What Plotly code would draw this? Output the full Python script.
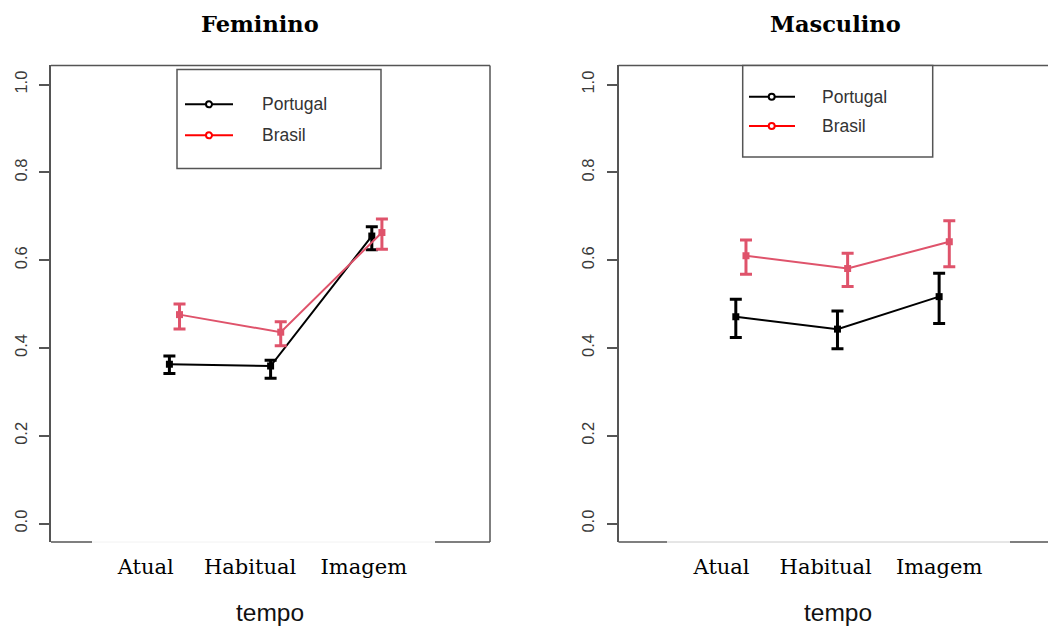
import plotly.graph_objects as go

W, H = 1048, 627

# ---------------- data ----------------
categories = ["Atual", "Habitual", "Imagem"]
panel_titles = ["Feminino", "Masculino"]
series_names = ["Portugal", "Brasil"]

# Feminino
fem_portugal = [0.363, 0.359, 0.655]
fem_portugal_hi = [0.382, 0.372, 0.676]
fem_portugal_lo = [0.342, 0.331, 0.624]
fem_brasil = [0.476, 0.436, 0.663]
fem_brasil_hi = [0.500, 0.460, 0.694]
fem_brasil_lo = [0.443, 0.405, 0.625]

# Masculino
mas_portugal = [0.471, 0.443, 0.517]
mas_portugal_hi = [0.511, 0.484, 0.570]
mas_portugal_lo = [0.424, 0.398, 0.456]
mas_brasil = [0.610, 0.581, 0.642]
mas_brasil_hi = [0.646, 0.616, 0.690]
mas_brasil_lo = [0.568, 0.540, 0.585]

y_ticks = [0.0, 0.2, 0.4, 0.6, 0.8, 1.0]
y_ticktext = ["0.0", "0.2", "0.4", "0.6", "0.8", "1.0"]

# ---------------- style ----------------
COL_PT = "#000000"
COL_BR = "#DF536B"
LEG_PT = "#000000"
LEG_BR = "#FF0000"
AXCOL = "#555555"
DODGE = 0.1
SANS = "Liberation Sans, Arial, sans-serif"
SERIF = "DejaVu Serif, Georgia, serif"


def px(x):
    return x / W


def py(y):
    return 1 - y / H


xs = [1, 2, 3]

fig = go.Figure()


def add_series(vals, hi, lo, color, xa, ya, offset):
    fig.add_trace(go.Scatter(
        x=[x + offset for x in xs], y=vals, xaxis=xa, yaxis=ya,
        mode="lines+markers",
        line=dict(color=color, width=2),
        marker=dict(symbol="square", size=7, color=color),
        error_y=dict(type="data", symmetric=False,
                     array=[h - v for h, v in zip(hi, vals)],
                     arrayminus=[v - l for v, l in zip(vals, lo)],
                     color=color, thickness=3, width=6),
        showlegend=False, hoverinfo="skip"))


add_series(fem_portugal, fem_portugal_hi, fem_portugal_lo, COL_PT, "x", "y", 0)
add_series(fem_brasil, fem_brasil_hi, fem_brasil_lo, COL_BR, "x", "y", DODGE)
add_series(mas_portugal, mas_portugal_hi, mas_portugal_lo, COL_PT, "x2", "y2", 0)
add_series(mas_brasil, mas_brasil_hi, mas_brasil_lo, COL_BR, "x2", "y2", DODGE)

ydom = [py(542), py(65)]
yrange = [-0.0419, 1.0446]

yaxis_common = dict(
    domain=ydom, range=yrange, tickvals=y_ticks, ticktext=y_ticktext,
    ticks="outside", ticklen=10, tickwidth=1.5, tickcolor=AXCOL,
    tickangle=-90, tickfont=dict(family=SANS, size=16.5, color="#3a3a3a"),
    showline=True, linecolor=AXCOL, linewidth=1.5,
    showgrid=False, zeroline=False, ticklabelstandoff=6,
)

# x tick label positions (data units) per panel
fem_label_pos = [0.766, 1.797, 2.921]
mas_label_pos = [0.860, 1.884, 3.000]

xaxis_common = dict(
    showgrid=False, zeroline=False, showline=False, ticks="",
    tickfont=dict(family=SERIF, size=21, color="#000000"),
    ticktext=categories, ticklabelstandoff=10,
)

fig.update_layout(
    width=W, height=H,
    margin=dict(l=0, r=0, t=0, b=0),
    paper_bgcolor="white", plot_bgcolor="white",
    xaxis=dict(domain=[px(51), px(490)], range=[-0.170, 4.168],
               tickvals=fem_label_pos, anchor="y", **xaxis_common),
    yaxis=dict(anchor="x", **yaxis_common),
    xaxis2=dict(domain=[px(618.5), 1.0], range=[-0.154, 4.071],
                tickvals=mas_label_pos, anchor="y2", **xaxis_common),
    yaxis2=dict(anchor="x2", **yaxis_common),
)

shapes = []


def seg(x0, y0, x1, y1, color=AXCOL, w=1.5):
    shapes.append(dict(type="line", xref="paper", yref="paper",
                       x0=px(x0), y0=py(y0), x1=px(x1), y1=py(y1),
                       line=dict(color=color, width=w)))


# panel frames
seg(51, 65.5, 490, 65.5)
seg(490, 65.5, 490, 542)
seg(51, 542, 92, 542)
seg(92, 542, 435, 542, color="#f2f2f2", w=1)
seg(435, 542, 490, 542)

seg(618.5, 65.5, 1048, 65.5)
seg(618.5, 542, 667, 542)
seg(667, 542, 1010, 542, color="#cccccc", w=1)
seg(1010, 542, 1048, 542)

annotations = []


def legend_box(x0, y0, x1, y1, lx0, lx1, lcx, ly_pt, ly_br, tx):
    shapes.append(dict(type="rect", xref="paper", yref="paper",
                       x0=px(x0), y0=py(y0), x1=px(x1), y1=py(y1),
                       line=dict(color=AXCOL, width=1.5), fillcolor="white"))
    for ly, col, name in [(ly_pt, LEG_PT, series_names[0]),
                          (ly_br, LEG_BR, series_names[1])]:
        seg(lx0, ly, lx1, ly, color=col, w=2)
        r = 3
        shapes.append(dict(type="circle", xref="paper", yref="paper",
                           x0=px(lcx - r), x1=px(lcx + r),
                           y0=py(ly - r), y1=py(ly + r),
                           line=dict(color=col, width=2), fillcolor="white"))
        annotations.append(dict(text=name, xref="paper", yref="paper",
                                x=px(tx), y=py(ly), xanchor="left",
                                yanchor="middle", showarrow=False,
                                font=dict(family=SANS, size=17.5, color="#333333")))


legend_box(177, 69.5, 381, 168.5, 185, 233, 209, 104.3, 135.3, 260)
legend_box(742.7, 65.5, 932.7, 157, 749, 795, 771.7, 96.7, 126, 820)

# titles
for title, cx in zip(panel_titles, [260, 835.5]):
    annotations.append(dict(text="<b>" + title + "</b>", xref="paper", yref="paper",
                            x=px(cx), y=py(24), xanchor="center", yanchor="middle",
                            showarrow=False,
                            font=dict(family=SERIF, size=22.5, color="#000000")))

# axis titles
for cx in [269.5, 837.5]:
    annotations.append(dict(text="tempo", xref="paper", yref="paper",
                            x=px(cx), y=py(612), xanchor="center", yanchor="middle",
                            showarrow=False,
                            font=dict(family=SANS, size=24.5, color="#111111")))

fig.update_layout(shapes=shapes, annotations=annotations)

fig.write_html("out.html")
